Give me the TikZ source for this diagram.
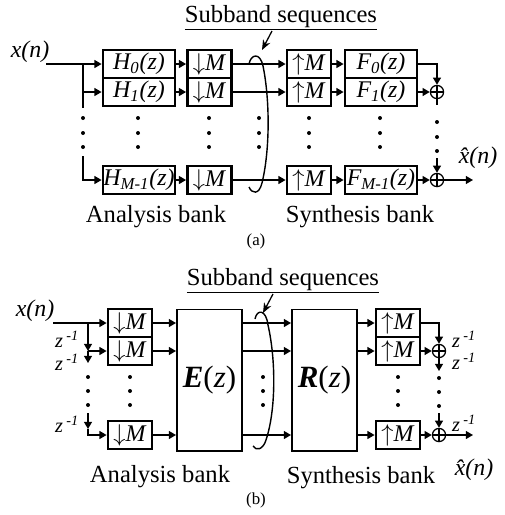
\documentclass[tikz,border=0pt]{standalone}
\usepackage{fontspec}
\setmainfont{Liberation Serif}
\usetikzlibrary{arrows.meta}
\newcommand{\sub}[1]{\textsubscript{\itshape #1}}
\newcommand{\zinv}{\textit{z}\,\textsuperscript{\itshape -1}}
\newcommand{\xhat}{\textit{x\char"0302(n)}}
\begin{document}
\begin{tikzpicture}[
      x=0.025cm, y=-0.025cm,
      every node/.style={font=\fontsize{17}{19}\selectfont},
      block/.style={rectangle, draw, line width=2pt, minimum height=0.7cm, inner sep=0pt},
      hbox/.style={block, minimum width=1.8cm},
      mbox/.style={block, minimum width=1.1cm},
      bigbox/.style={rectangle, draw, line width=1.4pt, minimum width=1.625cm, minimum height=3.525cm, font=\fontsize{22}{24}\selectfont},
      wire/.style={line width=1pt},
      sig/.style={wire, -{Triangle[length=0.18cm,width=0.2cm]}},
      pointer/.style={line width=0.9pt, -{Stealth[length=0.25cm,width=0.2cm]}},
      adder/.style={circle, draw, line width=0.9pt, minimum size=0.33cm, inner sep=0pt,
        path picture={\draw[line width=0.9pt] (path picture bounding box.north) -- (path picture bounding box.south)
          (path picture bounding box.west) -- (path picture bounding box.east);}},
      delay/.style={inner sep=0pt, font=\fontsize{14.5}{15}\selectfont},
      bank/.style={font=\fontsize{17.5}{20}\selectfont},
      tag/.style={font=\fontsize{12}{14}\selectfont}
  ]
    \useasboundingbox (0,0) rectangle (505,515);

    % (a)
    \node (xa) at (30,52) {\textit{x(n)}};
    \node[bank] (sa) at (281,18) {\underline{Subband sequences}};
    \node[hbox] (h0) at (139,64) {\textit{H\sub{0}(z)}};
    \node[hbox] (h1) at (139,92) {\textit{H\sub{1}(z)}};
    \node[hbox] (hm) at (139,180) {\textit{H\sub{M-1}(z)}};
    \node[hbox] (f0) at (381,64) {\textit{F\sub{0}(z)}};
    \node[hbox] (f1) at (381,92) {\textit{F\sub{1}(z)}};
    \node[hbox] (fm) at (381,180) {\textit{F\sub{M-1}(z)}};
    \foreach \n/\y in {0/64,1/92,m/180} {
      \node[mbox] (d\n) at (209.5,\y) {$\downarrow$\textit{M}};
      \node[mbox] (u\n) at (309,\y) {$\uparrow$\textit{M}};
    }
    \node[adder] (s1) at (437,92) {};
    \node[adder] (sm) at (437,180) {};
    \node (xha) at (478,158) {\xhat};
    \node[bank] (ana) at (156,217) {Analysis bank};
    \node[bank] (syna) at (360,217) {Synthesis bank};
    \node[tag] (capa) at (256,241) {(a)};

    \coordinate (ain) at (46,64);
    \coordinate (abus) at (83,64);
    \coordinate (abus1) at (83,108);
    \coordinate (abus2) at (83,156);
    \coordinate (as1) at (437,105);
    \coordinate (as2) at (437,158);
    \coordinate (aout) at (473,180);
    \coordinate (pa1) at (272,31);
    \coordinate (pa2) at (262,50);

    \draw[wire] (ain) -- (abus) -- (abus1);
    \draw[sig] (abus) -- (h0);
    \draw[sig] (abus |- h1) -- (h1);
    \draw[sig] (abus2) |- (hm);
    \foreach \n in {0,1,m} {
      \draw[sig] (h\n) -- (d\n);
      \draw[sig] (d\n) -- (u\n);
      \draw[sig] (u\n) -- (f\n);
    }
    \draw[sig] (f0) -| (s1);
    \draw[sig] (f1) -- (s1);
    \draw[wire] (s1) -- (as1);
    \draw[sig] (as2) -- (sm);
    \draw[sig] (fm) -- (sm);
    \draw[sig] (sm) -- (aout);
    \draw[wire] (249,64) .. controls (251,54) and (260,52) .. (263,66)
      .. controls (270,100) and (270,150) .. (262,183)
      .. controls (259,195) and (252,194) .. (249,187);
    \draw[pointer] (pa1) -- (pa2);
    \foreach \x/\d in {83/0,138/0,209/0,259/0,309/0,380/0,437/4} {
      \foreach \y in {118,133,147} \fill (\x,\y+\d) circle (2);
    }

    % (b)
    \node (xb) at (35,311) {\textit{x(n)}};
    \node[bank] (sb) at (283,281) {\underline{Subband sequences}};
    \foreach \n/\y in {0/323,1/351,m/435} {
      \node[mbox] (bd\n) at (130,\y) {$\downarrow$\textit{M}};
      \node[mbox] (bu\n) at (398,\y) {$\uparrow$\textit{M}};
    }
    \node[bigbox] (E) at (209.5,380) {\textbf{\textit{E}}(\textit{z})};
    \node[bigbox] (R) at (324.5,380) {\textbf{\textit{R}}(\textit{z})};
    \node[adder] (bs1) at (439,351) {};
    \node[adder] (bsm) at (439,435) {};
    \node[delay] (zl1) at (67,339) {\zinv};
    \node[delay] (zl2) at (67,362) {\zinv};
    \node[delay] (zl3) at (67,424) {\zinv};
    \node[delay] (zr1) at (464,339) {\zinv};
    \node[delay] (zr2) at (464,361) {\zinv};
    \node[delay] (zr3) at (464,423) {\zinv};
    \node (xhb) at (474,470) {\xhat};
    \node[bank] (anb) at (160,477) {Analysis bank};
    \node[bank] (synb) at (361,478) {Synthesis bank};
    \node[tag] (capb) at (256,500) {(b)};

    \coordinate (bin) at (53,323);
    \coordinate (j0) at (88,323);
    \coordinate (j1) at (88,351);
    \coordinate (j1b) at (88,363);
    \coordinate (j2) at (88,413);
    \coordinate (j3) at (88,429);
    \coordinate (k1) at (439,371);
    \coordinate (k2) at (439,413);
    \coordinate (bout) at (473,435);
    \coordinate (pb1) at (273,294);
    \coordinate (pb2) at (263,313);

    \draw[wire] (bin) -- (j0);
    \draw[sig] (j0) -- (bd0);
    \draw[sig] (j0) -- (j1);
    \draw[sig] (j1) -- (bd1);
    \draw[sig] (j1) -- (j1b);
    \draw[sig] (j2) -- (j3);
    \draw[sig] (j3) |- (bdm);
    \foreach \n in {0,1,m} {
      \draw[sig] (bd\n) -- (bd\n -| E.west);
      \draw[sig] (bd\n -| E.east) -- (bd\n -| R.west);
      \draw[sig] (bd\n -| R.east) -- (bu\n);
    }
    \draw[sig] (bu0) -| (bs1);
    \draw[sig] (bu1) -- (bs1);
    \draw[sig] (bs1) -- (k1);
    \draw[sig] (k2) -- (bsm);
    \draw[sig] (bum) -- (bsm);
    \draw[sig] (bsm) -- (bout);
    \draw[wire] (255,319) .. controls (257,309) and (266,309) .. (268,325)
      .. controls (276,360) and (276,410) .. (266,440)
      .. controls (263,450) and (256,451) .. (253,446);
    \draw[pointer] (pb1) -- (pb2);
    \foreach \x/\d in {88/0,130/0,263/0,398/0,439/1} {
      \foreach \y in {377,391,405} \fill (\x,\y+\d) circle (2);
    }
\end{tikzpicture}
\end{document}
